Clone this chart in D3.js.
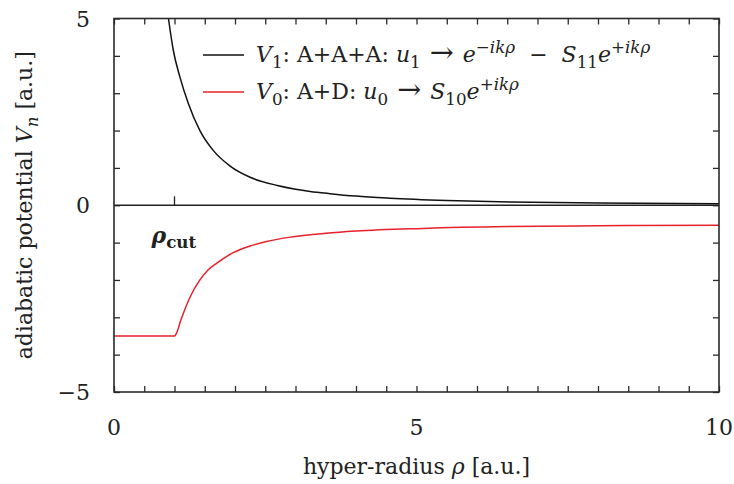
<!DOCTYPE html>
<html>
<head>
<meta charset="utf-8">
<script src="https://d3js.org/d3.v7.min.js"></script>
<style>
  body { margin: 0; background: #fff; }
  svg { display: block; }
  .frame { fill: none; stroke: #2a2a2a; stroke-width: 1.6px; }
  .tick line { stroke: #2a2a2a; stroke-width: 1.3px; }
  .lbl { font-family: "DejaVu Serif", serif; font-size: 22px; fill: #222; }
</style>
</head>
<body>
<svg width="734" height="484"></svg>
<script>
// data
const rho1 = [0.90, 0.98, 1.09, 1.23, 1.42, 1.64, 1.92, 2.25, 2.7, 3.0, 3.24, 3.57, 4.0, 4.56, 5.5, 6.55, 8.0, 10];
const v1   = [5.0, 4.15, 3.43, 2.72, 2.0, 1.47, 1.05, 0.75, 0.53, 0.43, 0.37, 0.31, 0.245, 0.19, 0.13, 0.09, 0.06, 0.04];
const rho0 = [0, 1.0, 1.04, 1.1, 1.15, 1.26, 1.42, 1.55, 1.70, 1.97, 2.25, 2.52, 2.89, 3.5, 4.0, 5.1, 6.5, 8.0, 10];
const v0   = [-3.5, -3.5, -3.40, -3.1, -2.88, -2.45, -2.0, -1.74, -1.55, -1.27, -1.09, -0.97, -0.86, -0.75, -0.69, -0.62, -0.57, -0.55, -0.535];
const xLabels = [0, 5, 10];
const yLabels = [5, 0, -5];
const rhoCut = 1;

const svg = d3.select("svg");
const margin = { top: 18.5, right: 15, bottom: 92, left: 114 };
const W = 734 - margin.left - margin.right,
      H = 484 - margin.top - margin.bottom;
const FS = 22;

const x = d3.scaleLinear().domain([0, 10]).range([0, W]);
const y = d3.scaleLinear().domain([-5, 5]).range([H, 0]);

const g = svg.append("g").attr("transform", `translate(${margin.left},${margin.top})`);

g.append("clipPath").attr("id", "clip")
 .append("rect").attr("width", W).attr("height", H);

// inward ticks on all four sides
const xt = d3.range(0, 10.01, 0.5), yt = d3.range(-5, 5.01, 1);
g.append("g").attr("transform", `translate(0,${H})`)
 .call(d3.axisBottom(x).tickValues(xt).tickSize(-6).tickFormat(""))
 .call(s => s.select(".domain").remove());
g.append("g")
 .call(d3.axisTop(x).tickValues(xt).tickSize(-6).tickFormat(""))
 .call(s => s.select(".domain").remove());
g.append("g")
 .call(d3.axisLeft(y).tickValues(yt).tickSize(-6).tickFormat(""))
 .call(s => s.select(".domain").remove());
g.append("g").attr("transform", `translate(${W},0)`)
 .call(d3.axisRight(y).tickValues(yt).tickSize(-6).tickFormat(""))
 .call(s => s.select(".domain").remove());

// zero line and rho_cut tick
g.append("line").attr("x1", 0).attr("x2", W).attr("y1", y(0)).attr("y2", y(0))
 .attr("stroke", "#222").attr("stroke-width", 1.6);
g.append("line").attr("x1", x(rhoCut)).attr("x2", x(rhoCut)).attr("y1", y(0)).attr("y2", y(0) - 9)
 .attr("stroke", "#222").attr("stroke-width", 1.3);

// curves
const line = d3.line().x(d => x(d[0])).y(d => y(d[1])).curve(d3.curveMonotoneX);
g.append("path").datum(d3.zip(rho1, v1)).attr("d", line).attr("clip-path", "url(#clip)")
 .attr("fill", "none").attr("stroke", "#111").attr("stroke-width", 1.5);
g.append("path").datum(d3.zip(rho0, v0)).attr("d", line).attr("clip-path", "url(#clip)")
 .attr("fill", "none").attr("stroke", "#e8202a").attr("stroke-width", 1.5);

g.append("rect").attr("class", "frame").attr("width", W).attr("height", H);

// tick labels
g.selectAll(".xl").data(xLabels).join("text").attr("class", "lbl")
 .attr("x", d => x(d)).attr("y", H + 43).attr("text-anchor", "middle").text(d => d);
g.selectAll(".yl").data(yLabels).join("text").attr("class", "lbl")
 .attr("x", -24).attr("y", d => y(d) + 8).attr("text-anchor", "end")
 .text(d => d < 0 ? "\u2212" + (-d) : d);

// rich text helper: segments [text, style] where style has i (italic), b (bold), sub, sup, k (size factor)
function rich(sel, segs, size) {
  let shift = 0;
  segs.forEach(([t, st = {}]) => {
    let target = st.sub ? 0.25 * size : st.sup ? -0.42 * size : 0;
    const k = st.k || ((st.sub || st.sup) ? 0.76 : 1);
    const ts = sel.append("tspan").text(t)
      .attr("dy", target - shift)
      .attr("font-size", size * k);
    if (st.i) ts.attr("font-style", "italic");
    if (st.b) ts.attr("font-weight", "bold");
    shift = target;
  });
}

// axis titles
svg.append("text").attr("class", "lbl").attr("x", margin.left + W / 2).attr("y", 474)
 .attr("text-anchor", "middle")
 .call(s => rich(s, [["hyper-radius "], ["\u03c1", { i: 1 }], [" [a.u.]"]], FS));
svg.append("text").attr("class", "lbl")
 .attr("transform", `translate(32,${margin.top + y(0)}) rotate(-90)`)
 .attr("text-anchor", "middle")
 .call(s => rich(s, [["adiabatic potential "], ["V", { i: 1 }], ["n", { i: 1, sub: 1 }], [" [a.u.]"]], FS));

// rho_cut label
g.append("text").attr("class", "lbl").attr("x", x(rhoCut) - 23).attr("y", y(-1) + 0)
 .call(s => rich(s, [["\u03c1", { i: 1, b: 1 }], ["cut", { b: 1, sub: 1 }]], FS));

// legend
const arrow = [" \u2192 ", { k: 1.3 }];
const leg = [
  { c: "#111", segs: [["V", { i: 1 }], ["1", { sub: 1 }], [": A+A+A: "], ["u", { i: 1 }], ["1", { sub: 1 }],
      arrow, ["e", { i: 1 }], ["\u2212ik\u03c1", { i: 1, sup: 1 }], ["  \u2212  "], ["S", { i: 1 }],
      ["11", { sub: 1 }], ["e", { i: 1 }], ["+ik\u03c1", { i: 1, sup: 1 }]] },
  { c: "#e8202a", segs: [["V", { i: 1 }], ["0", { sub: 1 }], [": A+D: "], ["u", { i: 1 }], ["0", { sub: 1 }],
      arrow, ["S", { i: 1 }], ["10", { sub: 1 }], ["e", { i: 1 }], ["+ik\u03c1", { i: 1, sup: 1 }]] }
];
leg.forEach((l, i) => {
  const ly = 55 + i * 37;
  svg.append("line").attr("x1", 203).attr("x2", 244).attr("y1", ly).attr("y2", ly)
     .attr("stroke", l.c).attr("stroke-width", 1.5);
  svg.append("text").attr("class", "lbl").attr("x", 256).attr("y", ly + 7)
     .attr("xml:space", "preserve").style("white-space", "pre")
     .call(s => rich(s, l.segs, FS));
});
</script>
</body>
</html>
